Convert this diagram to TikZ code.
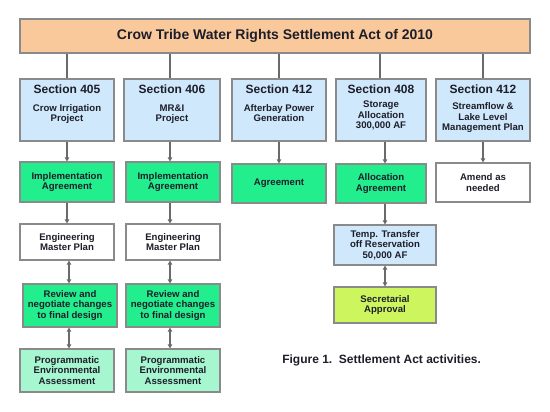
\documentclass[tikz,border=0pt]{standalone}
\usepackage{fontspec}
\setmainfont{Liberation Sans}
\usetikzlibrary{arrows.meta}
\definecolor{topc}{HTML}{FAC99B}
\definecolor{bluec}{HTML}{CFE8FB}
\definecolor{greenc}{HTML}{22EE8E}
\definecolor{peac}{HTML}{A6F7CF}
\definecolor{secc}{HTML}{CDF55E}
\definecolor{bordc}{HTML}{8A8A8A}
\definecolor{linec}{HTML}{6A6A6A}
\definecolor{txtc}{HTML}{1E1E2A}
\newcommand{\bodyfont}{\bfseries\fontsize{7.2}{7.8}\selectfont}
\newcommand{\hdrfont}{\bfseries\fontsize{9}{10}\selectfont}
\tikzset{
  box/.style={draw=bordc, line width=0.8pt, inner sep=0pt, align=center, text=txtc, font=\bodyfont},
  topbox/.style={box, fill=topc, minimum width=382.5pt, minimum height=25.5pt, font=\bfseries\fontsize{10.5}{12}\selectfont},
  secbox/.style={box, fill=bluec, minimum height=46.5pt},
  sechdr/.style={anchor=north, yshift=-4.5pt, inner sep=0pt, align=center, text=txtc, font=\bodyfont},
  greenbox/.style={box, fill=greenc},
  whitebox/.style={box, fill=white},
  peabox/.style={box, fill=peac},
  bluebox/.style={box, fill=bluec},
  yelbox/.style={box, fill=secc},
  conn/.style={draw=linec, line width=0.9pt},
  arr/.style={conn, -{Triangle[length=3pt,width=3.2pt]}},
  darr/.style={conn, {Triangle[length=3pt,width=3.2pt]}-{Triangle[length=3pt,width=3.2pt]}},
  captext/.style={inner sep=0pt, text=txtc, font=\bfseries\fontsize{9}{10}\selectfont}
}
\begin{document}
\begin{tikzpicture}[x=0.75pt,y=-0.75pt]
\path[use as bounding box] (0,0) rectangle (550,411);
% top
\node[topbox] (top) at (275,36) {Crow Tribe Water Rights Settlement Act of 2010};
% row 1
\node[secbox, minimum width=70.5pt, label={[sechdr]north:{{\hdrfont Section 405}\\[5.7pt]Crow Irrigation\\Project}}] (s405) at (67,110) {};
\node[secbox, minimum width=72pt, label={[sechdr]north:{{\hdrfont Section 406}\\[5.7pt]MR\&I\\Project}}] (s406) at (172,110) {};
\node[secbox, minimum width=70.5pt, label={[sechdr]north:{{\hdrfont Section 412}\\[5.7pt]Afterbay Power\\Generation}}] (s412a) at (279,110) {};
\node[secbox, minimum width=67.5pt, label={[sechdr]north:{{\hdrfont Section 408}\\[3.1pt]Storage\\Allocation\\300,000 AF}}] (s408) at (381,110) {};
\node[secbox, minimum width=70.5pt, label={[sechdr]north:{{\hdrfont Section 412}\\[4.6pt]Streamflow \&\\Lake Level\\Management Plan}}] (s412b) at (483,110) {};
% row 2
\node[greenbox, minimum width=70.5pt, minimum height=30pt] (i1) at (67,182) {Implementation\\Agreement};
\node[greenbox, minimum width=70.5pt, minimum height=30pt] (i2) at (173,182) {Implementation\\Agreement};
\node[greenbox, minimum width=70.5pt, minimum height=29.25pt] (agr) at (279,183.5) {Agreement};
\node[greenbox, minimum width=67.5pt, minimum height=29.25pt] (alloc) at (381,183.5) {Allocation\\Agreement};
\node[whitebox, minimum width=70.5pt, minimum height=29.25pt] (amend) at (483,182.5) {Amend as\\needed};
% row 3
\node[whitebox, minimum width=70.5pt, minimum height=27pt] (e1) at (67,242) {Engineering\\Master Plan};
\node[whitebox, minimum width=70.5pt, minimum height=27pt] (e2) at (173,242) {Engineering\\Master Plan};
\node[bluebox, minimum width=76.5pt, minimum height=30pt] (temp) at (385,245) {Temp. Transfer\\off Reservation\\50,000 AF};
% row 4
\node[greenbox, minimum width=70.5pt, minimum height=32.25pt, font=\bfseries\fontsize{7.2}{8}\selectfont] (r1) at (70,305.5) {Review and\\negotiate changes\\to final design};
\node[greenbox, minimum width=70.5pt, minimum height=32.25pt, font=\bfseries\fontsize{7.2}{8}\selectfont] (r2) at (173,305.5) {Review and\\negotiate changes\\to final design};
\node[yelbox, minimum width=76.5pt, minimum height=27pt] (sec) at (385,305) {Secretarial\\Approval};
% row 5
\node[peabox, minimum width=70.5pt, minimum height=32.25pt, font=\bfseries\fontsize{7.2}{8.2}\selectfont] (p1) at (67,370.5) {Programmatic\\Environmental\\Assessment};
\node[peabox, minimum width=70.5pt, minimum height=32.25pt, font=\bfseries\fontsize{7.2}{8.2}\selectfont] (p2) at (173,370.5) {Programmatic\\Environmental\\Assessment};
% caption
\node[captext, anchor=base west] (cap) at (282,363) {Figure 1.\ \ Settlement Act activities.};
% connectors from top
\draw[conn] (top.south -| s405) -- (s405.north);
\draw[conn] (top.south -| 170,0) -- (s406.north -| 170,0);
\draw[conn] (top.south -| s412a) -- (s412a.north);
\draw[conn] (top.south -| 380,0) -- (s408.north -| 380,0);
\draw[conn] (top.south -| s412b) -- (s412b.north);
% column 1
\draw[arr] (s405.south) -- (s405.south |- i1.north);
\draw[arr] (i1.south) -- (i1.south |- e1.north);
\draw[darr] (e1.south -| 69,0) -- (r1.north -| 69,0);
\draw[darr] (r1.south -| 69,0) -- (p1.north -| 69,0);
% column 2
\draw[arr] (s406.south -| 170,0) -- (i2.north -| 170,0);
\draw[arr] (i2.south -| 170,0) -- (e2.north -| 170,0);
\draw[darr] (e2.south -| 170,0) -- (r2.north -| 170,0);
\draw[darr] (r2.south -| 170,0) -- (p2.north -| 170,0);
% column 3
\draw[arr] (s412a.south) -- (s412a.south |- agr.north);
% column 4
\draw[arr] (s408.south -| temp.north) -- (alloc.north -| temp.north);
\draw[arr] (alloc.south -| temp.north) -- (temp.north);
\draw[darr] (temp.south) -- (sec.north);
% column 5
\draw[arr] (s412b.south) -- (s412b.south |- amend.north);
\end{tikzpicture}
\end{document}
